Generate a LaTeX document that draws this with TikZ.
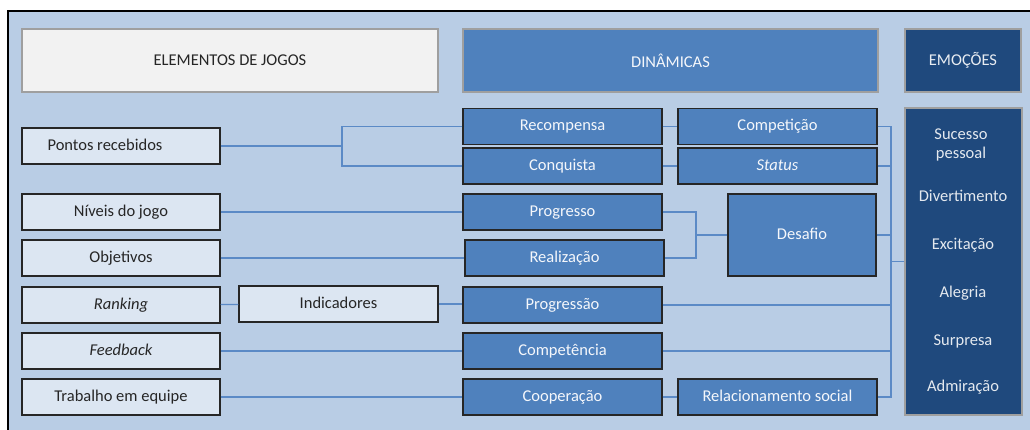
\documentclass[tikz,border=0pt]{standalone}
\usepackage{fontspec}
\setmainfont{Carlito}

\definecolor{fundo}{HTML}{B9CDE5}
\definecolor{claro}{HTML}{DCE6F2}
\definecolor{cinza}{HTML}{F2F2F2}
\definecolor{medio}{HTML}{4F81BD}
\definecolor{escuro}{HTML}{1F497D}
\definecolor{linha}{HTML}{5B8AC6}

\tikzset{
	elemento/.style={draw=black!85, line width=1.2pt, fill=claro, minimum width=198, minimum height=36, inner sep=0pt, text height=1.05em, text depth=0.15em, text=black!85},
	dinamica/.style={draw=black!85, line width=1.2pt, fill=medio, minimum width=199, minimum height=36, inner sep=0pt, text height=1.05em, text depth=0.15em, text=white!94!medio},
	cabeca/.style={draw=gray!75, line width=1.2pt, minimum height=63, inner sep=0pt},
	emocao/.style={text=white!88!escuro, align=center, inner sep=0pt},
	liga/.style={draw=linha, line width=1.1pt},
}

\begin{document}
\begin{tikzpicture}[x=1pt, y=-1pt, font=\fontsize{16.5}{19}\selectfont]
		\useasboundingbox (0,0) rectangle (1030,430);
		\draw[fill=fundo, line width=2pt] (8,11) rectangle (1040,440);
		
		% cabecalhos
		\node[cabeca, fill=cinza, minimum width=416, text=black!85] (hElem) at (230,60.5) {ELEMENTOS DE JOGOS};
		\node[cabeca, fill=medio, minimum width=415, text=white!94!medio] (hDin) at (670.5,60.5) {DINÂMICAS};
		\node[cabeca, fill=escuro, minimum width=116, text=white!90!escuro] (hEmo) at (963,60.5) {EMOÇÕES};
		
		% elementos
		\node[elemento] (pontos) at (121,146) {\hspace*{-32pt}Pontos recebidos};
		\node[elemento] (niveis) at (121,212) {Níveis do jogo};
		\node[elemento] (objetivos) at (121,258) {Objetivos};
		\node[elemento] (ranking) at (121,305) {\itshape Ranking};
		\node[elemento] (feedback) at (121,351) {\itshape Feedback};
		\node[elemento] (trabalho) at (121,397) {Trabalho em equipe};
		\node[elemento, minimum width=199] (indicadores) at (338.5,304) {Indicadores};
		
		% dinamicas
		\node[dinamica] (recompensa) at (562.5,126.5) {Recompensa};
		\node[dinamica] (conquista) at (562.5,166) {Conquista};
		\node[dinamica] (progresso) at (562.5,212) {Progresso};
		\node[dinamica] (realizacao) at (564.5,258) {Realização};
		\node[dinamica] (progressao) at (562.5,305) {Progressão};
		\node[dinamica] (competencia) at (562.5,351) {Competência};
		\node[dinamica] (cooperacao) at (562.5,397) {Cooperação};
		\node[dinamica] (competicao) at (777.5,126.5) {Competição};
		\node[dinamica] (status) at (777.5,166) {\itshape Status};
		\node[dinamica, minimum width=148, minimum height=82] (desafio) at (802,235) {Desafio};
		\node[dinamica] (relacionamento) at (777.5,397) {Relacionamento social};
		
		% emocoes
		\node[cabeca, fill=escuro, minimum width=117, minimum height=307] (emocoes) at (963.5,261.5) {};
		\node[emocao] (sucesso) at (961,145) {Sucesso\\pessoal};
		\node[emocao] (divertimento) at (963,196) {Divertimento};
		\node[emocao] (excitacao) at (963,245) {Excitação};
		\node[emocao] (alegria) at (963,293) {Alegria};
		\node[emocao] (surpresa) at (963,341) {Surpresa};
		\node[emocao] (admiracao) at (963,387) {Admiração};
		
		% ligacoes
		\coordinate (jp) at (342,0);
		\coordinate (jd) at (696,0);
		\coordinate (jb) at (891,0);
		\draw[liga] (pontos.east) -- (pontos.east -| jp);
		\draw[liga] (recompensa.west) -- (recompensa.west -| jp) |- (conquista.west);
		\draw[liga] (niveis) -- (progresso);
		\draw[liga] (objetivos.east) -- (realizacao.west);
		\draw[liga] (ranking) -- (indicadores);
		\draw[liga] (indicadores.east) -- (progressao.west |- indicadores.east);
		\draw[liga] (feedback) -- (competencia);
		\draw[liga] (trabalho) -- (cooperacao);
		\draw[liga] (recompensa) -- (competicao);
		\draw[liga] (conquista) -- (status);
		\draw[liga] (progresso.east) -- (progresso.east -| jd) |- (realizacao.east);
		\draw[liga] (desafio.west) -- (desafio.west -| jd);
		\draw[liga] (cooperacao) -- (relacionamento);
		\draw[liga] (competicao.east) -- (competicao.east -| jb) |- (relacionamento.east);
		\draw[liga] (status.east) -- (status.east -| jb);
		\draw[liga] (desafio.east) -- (desafio.east -| jb);
		\draw[liga] (progressao.east) -- (progressao.east -| jb);
		\draw[liga] (competencia.east) -- (competencia.east -| jb);
		\draw[liga] (emocoes.west) -- (emocoes.west -| jb);
	\end{tikzpicture}
\end{document}
